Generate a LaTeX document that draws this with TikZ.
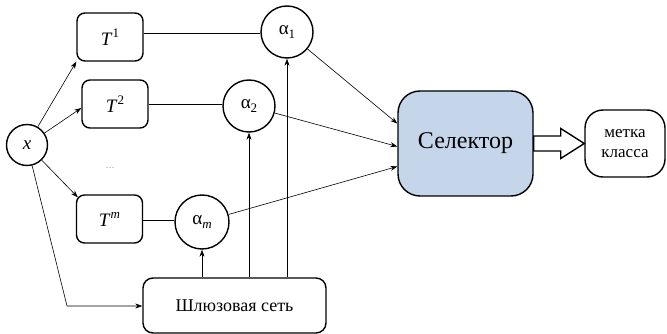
\documentclass[tikz,border=0pt]{standalone}
\usepackage{fontspec}
\setmainfont{Liberation Serif}
\usetikzlibrary{arrows.meta,calc}
\definecolor{selfill}{HTML}{C5D5EA}
% larger raised / lowered indices for the node labels
\newcommand{\upidx}[1]{\raisebox{0.42em}{\fontsize{13}{13}\selectfont #1}}
\newcommand{\lowidx}[1]{\raisebox{-0.22em}{\fontsize{13}{13}\selectfont #1}}
\begin{document}
\begin{tikzpicture}[x=1pt,y=-1pt,
  tbox/.style={draw,line width=1.4pt,rounded corners=8pt,minimum width=66pt,minimum height=48pt,inner sep=0pt,font=\fontsize{19}{19}\selectfont},
  wcirc/.style={draw,line width=1.4pt,circle,inner sep=0pt,font=\fontsize{19}{19}\selectfont},
  conn/.style={line width=0.6pt},
  arr/.style={conn,-{Stealth[length=7pt,width=5pt]}}]
\useasboundingbox (0,0) rectangle (667,334);
% input
\node[wcirc,minimum size=41pt] (x) at (27,145) {\textit{x}};
% experts
\node[tbox] (t1) at (110,37) {\textit{T}\upidx{1}};
\node[tbox] (t2) at (115,104) {\textit{T}\upidx{2}};
\node[tbox] (tm) at (109.5,219) {\textit{T}\upidx{\textit{m}}};
\node[font=\small,text=gray] (dots) at (110,168) {\ldots};
% weights
\node[wcirc,minimum size=52pt] (a1) at (287,32) {α\lowidx{1}};
\node[wcirc,minimum size=52pt] (a2) at (249,106) {α\lowidx{2}};
\node[wcirc,minimum size=54pt] (am) at (202,222) {α\lowidx{\textit{m}}};
% gating network
\node[draw,line width=1.4pt,rounded corners=10pt,minimum width=183pt,minimum height=55pt,inner sep=0pt,font=\fontsize{18}{18}\selectfont] (gate) at (234.5,305.5) {Шлюзовая сеть};
% selector and output
\node[draw,line width=1.4pt,rounded corners=22pt,fill=selfill,minimum width=135pt,minimum height=105pt,inner sep=0pt,font=\fontsize{24}{24}\selectfont] (sel) at (465.5,143.5) {Селектор};
\node[draw,line width=1.4pt,rounded corners=18pt,minimum width=80pt,minimum height=67pt,inner sep=0pt,align=center,font=\fontsize{17}{20}\selectfont] (lab) at (625,143.5) {метка\\класса};
% input to experts
\draw[arr] (x) -- (t1.south west);
\draw[arr] (x) -- ($(t2.west)+(0,4)$);
\draw[arr] (x) -- ($(tm.north west)+(2,3)$);
\coordinate (bend) at (67,306);
\draw[arr] (x) -- (bend) -- (gate.west |- bend);
% experts to weights
\coordinate (t1e) at ($(t1.east)+(0,-4)$);
\coordinate (tme) at ($(tm.east)+(0,1)$);
\draw[conn] (t1e) -- (t1e -| a1.west);
\draw[conn] (t2.east) -- (t2.east -| a2.west);
\draw[conn] (tme) -- (tme -| am.west);
% gating to weights
\draw[arr] (gate.north -| am.south) -- (am.south);
\draw[arr] (gate.north -| a2.south) -- (a2.south);
\draw[arr] (gate.north -| a1.south) -- (a1.south);
% weights to selector
\draw[arr] (a1) -- ($(sel.west)+(0,-20)$);
\draw[arr] (a2) -- ($(sel.west)+(0,3)$);
\draw[arr] (am) -- ($(sel.west)+(0,23)$);
% selector to output
\draw[line width=1.4pt,fill=white,line join=miter]
  ($(sel.east)+(0,-7.5)$) -- ($(sel.east)+(27,-7.5)$) -- ($(sel.east)+(27,-15)$)
  -- (lab.west) -- ($(sel.east)+(27,15)$) -- ($(sel.east)+(27,7.5)$)
  -- ($(sel.east)+(0,7.5)$) -- cycle;
\end{tikzpicture}
\end{document}
